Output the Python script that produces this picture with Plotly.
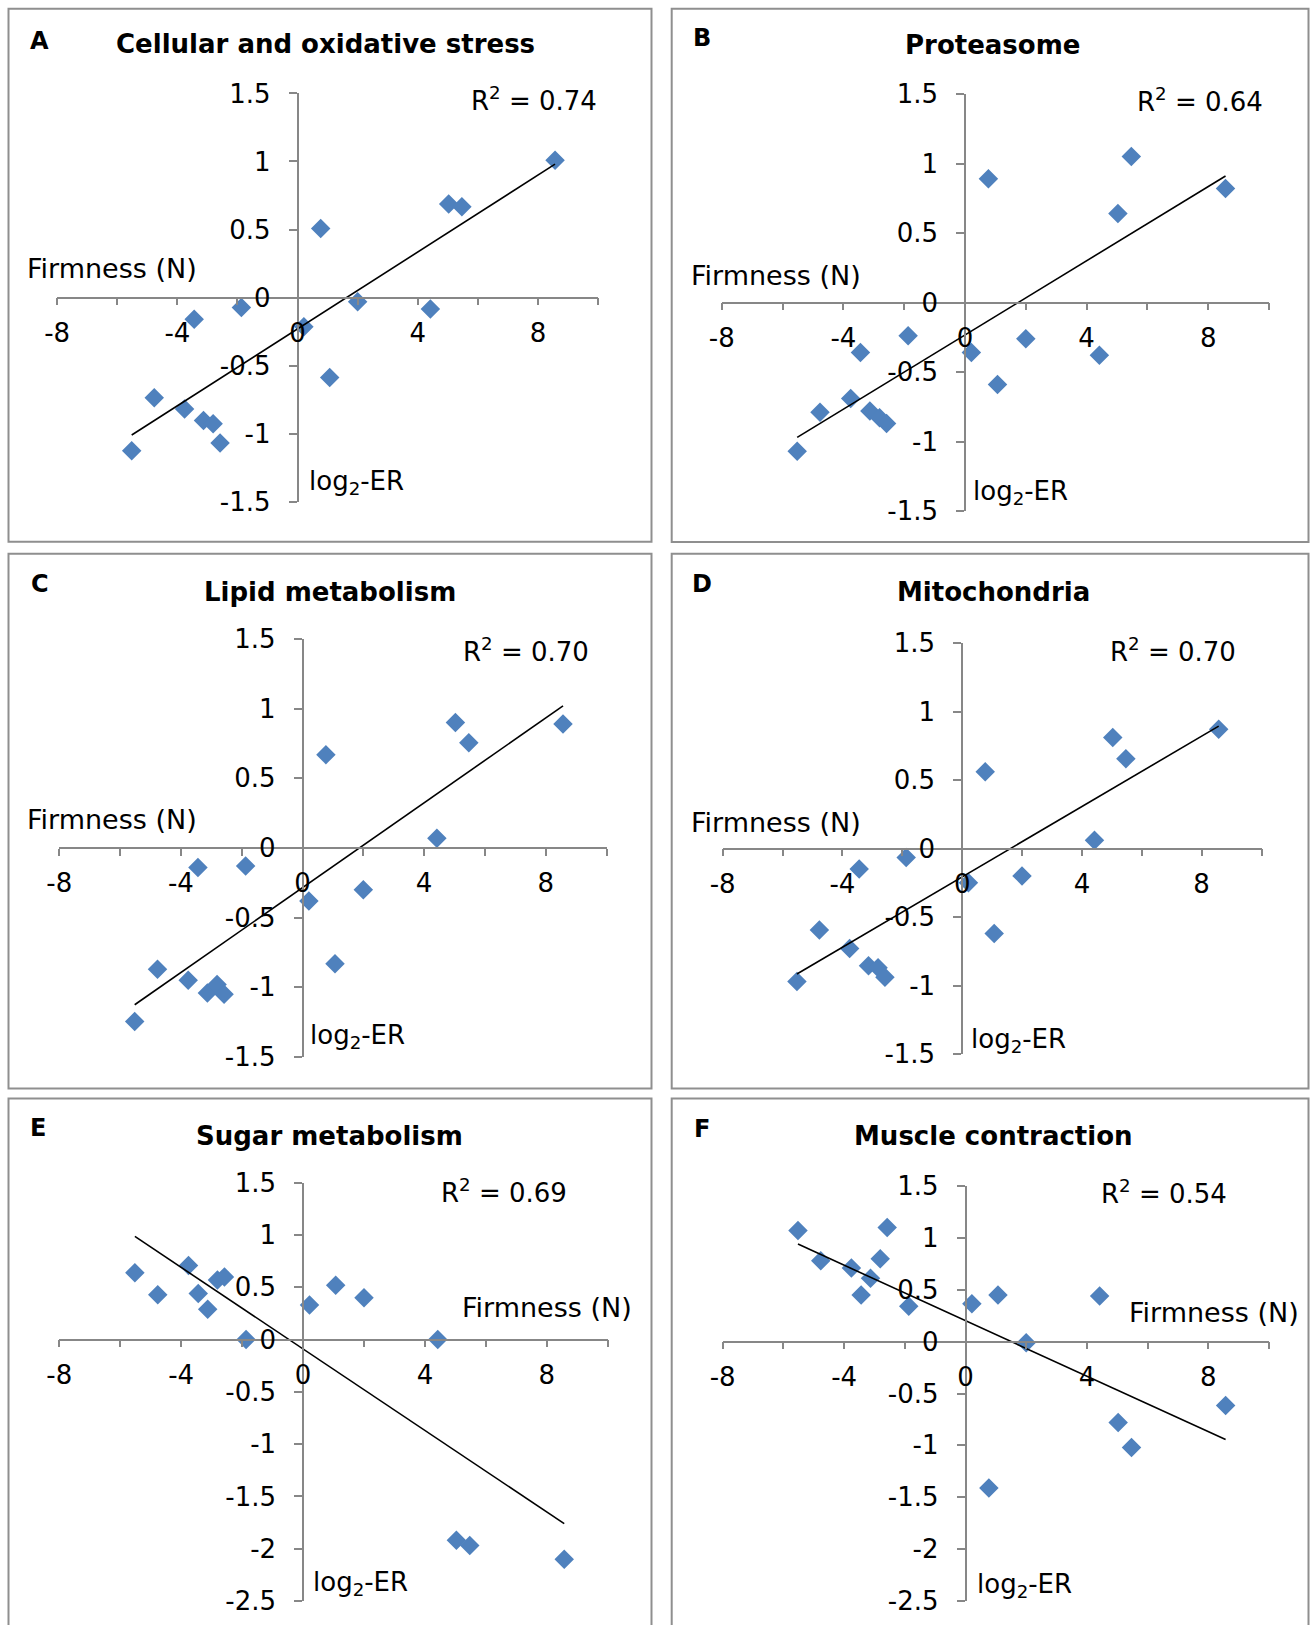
import plotly.graph_objects as go

W, H = 1310, 1625

# ---------------- data ----------------
firmness = [-5.52, -4.77, -3.76, -3.44, -3.13, -2.81, -2.58, -1.87,
            0.21, 0.77, 1.07, 2.0, 4.42, 5.03, 5.47, 8.57]

panel_letters = ["A", "B", "C", "D", "E", "F"]
panel_titles = ["Cellular and oxidative stress", "Proteasome", "Lipid metabolism",
                "Mitochondria", "Sugar metabolism", "Muscle contraction"]
r2_values = ["0.74", "0.64", "0.70", "0.70", "0.69", "0.54"]

er_A = [-1.126, -0.736, -0.818, -0.159, -0.903, -0.928, -1.069, -0.074,
        -0.215, 0.508, -0.587, -0.031, -0.085, 0.687, 0.667, 1.008]
er_B = [-1.07, -0.79, -0.69, -0.36, -0.78, -0.83, -0.87, -0.24,
        -0.36, 0.89, -0.59, -0.26, -0.38, 0.64, 1.05, 0.82]
er_C = [-1.245, -0.87, -0.95, -0.14, -1.04, -0.98, -1.05, -0.13,
        -0.38, 0.67, -0.83, -0.30, 0.07, 0.90, 0.755, 0.89]
er_D = [-0.97, -0.595, -0.73, -0.15, -0.855, -0.87, -0.94, -0.066,
        -0.25, 0.56, -0.62, -0.20, 0.06, 0.81, 0.656, 0.87]
er_E = [0.64, 0.43, 0.71, 0.44, 0.29, 0.57, 0.60, 0.0,
        0.33, None, 0.52, 0.40, 0.0, -1.92, -1.97, -2.10]
er_F = [1.07, 0.78, 0.71, 0.45, 0.61, 0.80, 1.10, 0.34,
        0.365, -1.41, 0.45, -0.01, 0.44, -0.78, -1.02, -0.615]

# trend line values at min and max firmness
trend_A = [-1.01, 0.98]
trend_B = [-0.97, 0.91]
trend_C = [-1.125, 1.02]
trend_D = [-0.916, 0.893]
trend_E = [0.987, -1.76]
trend_F = [0.94, -0.944]

x_tickvals = [-8, -4, 0, 4, 8]
x_ticktext = ["-8", "-4", "0", "4", "8"]
x_minorvals = [-6, -2, 2, 6, 10]
y_tickvals_std = [-1.5, -1, -0.5, 0, 0.5, 1, 1.5]
y_ticktext_std = ["-1.5", "-1", "-0.5", "0", "0.5", "1", "1.5"]
y_tickvals_ext = [-2.5, -2, -1.5, -1, -0.5, 0, 0.5, 1, 1.5]
y_ticktext_ext = ["-2.5", "-2", "-1.5", "-1", "-0.5", "0", "0.5", "1", "1.5"]

series = [er_A, er_B, er_C, er_D, er_E, er_F]
trends = [trend_A, trend_B, trend_C, trend_D, trend_E, trend_F]
y_ranges = [[-1.5, 1.5]] * 4 + [[-2.5, 1.5]] * 2
y_ticks = [(y_tickvals_std, y_ticktext_std)] * 4 + [(y_tickvals_ext, y_ticktext_ext)] * 2

# ---------------- layout geometry (pixels) ----------------
geom = [
    (57.2, 598.0, 93.4, 501.7),
    (721.8, 1269.0, 94.0, 511.0),
    (59.3, 606.5, 639.0, 1057.0),
    (722.7, 1261.5, 643.0, 1054.0),
    (59.3, 607.8, 1182.8, 1601.0),
    (722.7, 1269.0, 1186.0, 1601.0),
]
boxes = [
    (8.5, 8.7, 651.5, 541.8),
    (671.7, 8.7, 1308.5, 542.0),
    (8.5, 553.7, 651.5, 1088.5),
    (671.7, 553.7, 1308.5, 1088.5),
    (8.5, 1098.5, 651.5, 1640),
    (671.7, 1098.5, 1308.5, 1640),
]
letter_pos = [(39.7, 41), (701.8, 38), (39.7, 584), (702, 584), (38.4, 1128), (702, 1129)]
title_pos = [(325, 43.5), (992.5, 45), (330, 592), (993, 592), (330, 1136), (993, 1136)]
r2_pos = [(598.6, 99), (1265, 100), (591, 649.5), (1238, 649.5), (569, 1191), (1229, 1192)]
firm_pos = [(25, 268), (689, 275), (25, 820), (689, 822), (459.5, 1307), (1127, 1312)]
log_pos = [(307, 482.6), (971, 493), (308, 1036), (969, 1040), (311, 1583), (975, 1585)]

FONT = "DejaVu Sans"
AXC = "#878787"
MARK = "#4F81BD"


def fx(p):
    return p / W


def fy(p):
    return 1 - p / H


fig = go.Figure()
layout = dict(
    width=W, height=H, margin=dict(l=0, r=0, t=0, b=0, pad=0, autoexpand=False),
    paper_bgcolor="white", plot_bgcolor="white", showlegend=False,
    font=dict(family=FONT, color="black"),
)
annotations = []
shapes = []

for i in range(6):
    k = "" if i == 0 else str(i + 1)
    left, right, top, bottom = geom[i]
    ymin, ymax = y_ranges[i]
    y0pix = top + (ymax - 0) / (ymax - ymin) * (bottom - top)
    x0pix = left + (0 - (-8)) / 18 * (right - left)
    tv, tt = y_ticks[i]

    layout["xaxis" + k] = dict(
        domain=[fx(left), fx(right)], range=[-8, 10], anchor="free", position=fy(y0pix),
        showline=True, linecolor=AXC, linewidth=1.6, showgrid=False, zeroline=False,
        ticks="outside", ticklen=7, tickwidth=1.6, tickcolor=AXC,
        tickmode="array", tickvals=x_tickvals, ticktext=x_ticktext,
        minor=dict(tickmode="array", tickvals=x_minorvals, ticks="outside",
                   ticklen=7, tickwidth=1.6, tickcolor=AXC, showgrid=False),
        tickfont=dict(family=FONT, size=26, color="black"), ticklabelstandoff=5,
        fixedrange=True, automargin=False,
    )
    layout["yaxis" + k] = dict(
        domain=[fy(bottom), fy(top)], range=[ymin, ymax], anchor="free", position=fx(x0pix),
        showline=True, linecolor=AXC, linewidth=1.6, showgrid=False, zeroline=False,
        ticks="outside", ticklen=8, tickwidth=1.6, tickcolor=AXC,
        tickmode="array", tickvals=tv, ticktext=tt,
        tickfont=dict(family=FONT, size=26, color="black"), ticklabelstandoff=13,
        fixedrange=True, automargin=False,
    )

    xs = [x for x, y in zip(firmness, series[i]) if y is not None]
    ys = [y for y in series[i] if y is not None]
    fig.add_trace(go.Scatter(
        x=xs, y=ys, mode="markers", xaxis="x" + k, yaxis="y" + k,
        marker=dict(symbol="diamond", size=15, color=MARK, line=dict(width=0)),
        cliponaxis=False,
    ))
    fig.add_trace(go.Scatter(
        x=[min(xs), max(xs)], y=trends[i], mode="lines", xaxis="x" + k, yaxis="y" + k,
        line=dict(color="black", width=1.6),
    ))

    bx0, by0, bx1, by1 = boxes[i]
    shapes.append(dict(type="rect", xref="paper", yref="paper",
                       x0=fx(bx0), x1=fx(bx1), y0=fy(by1), y1=fy(by0),
                       line=dict(color="#8f8f8f", width=2), fillcolor="rgba(0,0,0,0)",
                       layer="below"))

    lx, ly = letter_pos[i]
    annotations.append(dict(text="<b>" + panel_letters[i] + "</b>", x=fx(lx), y=fy(ly),
                            xref="paper", yref="paper", showarrow=False,
                            xanchor="center", yanchor="middle",
                            font=dict(family=FONT, size=24, color="black")))
    tx, ty = title_pos[i]
    annotations.append(dict(text="<b>" + panel_titles[i] + "</b>", x=fx(tx), y=fy(ty),
                            xref="paper", yref="paper", showarrow=False,
                            xanchor="center", yanchor="middle",
                            font=dict(family=FONT, size=26, color="black")))
    rx, ry = r2_pos[i]
    annotations.append(dict(text="R<sup>2</sup> = " + r2_values[i], x=fx(rx), y=fy(ry),
                            xref="paper", yref="paper", showarrow=False,
                            xanchor="right", yanchor="middle",
                            font=dict(family=FONT, size=26, color="black")))
    mx, my = firm_pos[i]
    annotations.append(dict(text="Firmness (N)", x=fx(mx), y=fy(my),
                            xref="paper", yref="paper", showarrow=False,
                            xanchor="left", yanchor="middle",
                            font=dict(family=FONT, size=27, color="black")))
    gx, gy = log_pos[i]
    annotations.append(dict(text="log<sub>2</sub>-ER", x=fx(gx), y=fy(gy),
                            xref="paper", yref="paper", showarrow=False,
                            xanchor="left", yanchor="middle",
                            font=dict(family=FONT, size=26, color="black")))

layout["annotations"] = annotations
layout["shapes"] = shapes
fig.update_layout(**layout)
fig.write_html(
    "out.html",
    config={"displayModeBar": False},
    post_script=("document.documentElement.style.margin='0';document.body.style.margin='0';"
                 "document.documentElement.style.overflow='hidden';document.body.style.overflow='hidden';"),
)
